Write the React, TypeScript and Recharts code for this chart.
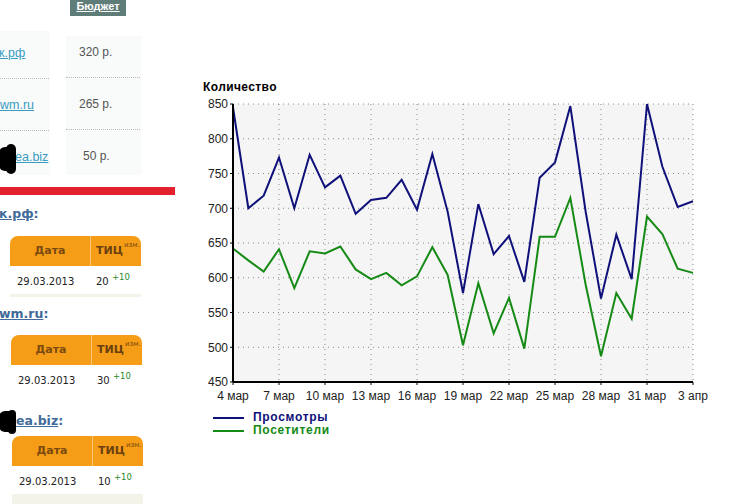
import React from "react";
import { LineChart, Line, XAxis, YAxis, CartesianGrid } from "recharts";

const days = [0,1,2,3,4,5,6,7,8,9,10,11,12,13,14,15,16,17,18,19,20,21,22,23,24,25,26,27,28,29,30];
const views = [845,700,718,773,700,777,730,747,692,712,715,741,698,778,695,578,706,634,660,594,744,766,847,695,570,662,598,850,760,702,710];
const visitors = [642,625,609,641,585,638,635,645,612,598,607,589,602,644,604,503,592,520,571,498,659,659,715,590,487,578,541,688,663,613,607];
const xTicks = [0,3,6,9,12,15,18,21,24,27,30];
const xLabels = ["4 мар","7 мар","10 мар","13 мар","16 мар","19 мар","22 мар","25 мар","28 мар","31 мар","3 апр"];
const yTicks = [450,500,550,600,650,700,750,800,850];
const rows = days.map((d, i) => ({ d, views: views[i], visitors: visitors[i] }));

const budgets = ["320 р.", "265 р.", "50 р."];
const links = ["к.рф", "wm.ru", "ea.biz"];
const headings = ["к.рф", "wm.ru", "ea.biz"];
const tic = ["20", "30", "10"];

const sans = "'Liberation Sans', Arial, sans-serif";
const tahoma = "'DejaVu Sans', sans-serif";
const abs = (left: number, top: number, extra: React.CSSProperties = {}): React.CSSProperties => ({
  position: "absolute", left, top, whiteSpace: "nowrap", ...extra,
});

const linkLeft = [-1, 0, 15];
const linkTop = [46, 98, 150];
const budgetLeft = [79, 79, 83];
const headLeft = [-1, -1, 16];
const headTop = [206, 306, 413];
const tableLeft = [10, 11, 12];
const tableTop = [236, 335, 436];
const stripH = [3, 0, 10];

function LegendBox() {
  const items = [["Просмотры", "#10107a"], ["Посетители", "#158a15"]];
  return (
    <div style={{ position: "absolute", left: 213, top: 411, width: 200 }}>
      {items.map(([label, color]) => (
        <div key={label} style={{ height: 13, display: "flex", alignItems: "center" }}>
          <span style={{ width: 31, height: 2, background: color, marginRight: 9 }} />
          <span style={{ fontFamily: sans, fontSize: 12, fontWeight: 700, letterSpacing: 0.7, color, lineHeight: "13px" }}>{label}</span>
        </div>
      ))}
    </div>
  );
}

export default function App() {
  return (
    <div style={{ position: "absolute", left: 0, top: 0, width: 732, height: 504, overflow: "hidden", background: "#fff" }}>
      <div style={abs(70, 0, { width: 56, height: 16, background: "#5f7d78", color: "#fff", fontFamily: sans, fontSize: 11, fontWeight: 700, textAlign: "center", textDecoration: "underline", lineHeight: "13px" })}>Бюджет</div>
      <div style={abs(0, 31, { width: 50, height: 144, background: "#f9fbfb" })} />
      <div style={abs(66, 36, { width: 75, height: 139, background: "#f9fbfb" })} />
      {[78, 130].map((t) => (
        <React.Fragment key={t}>
          <div style={abs(0, t, { width: 49, borderTop: "1px dotted #bbb" })} />
          <div style={abs(66, t - 1, { width: 74, borderTop: "1px dotted #bbb" })} />
        </React.Fragment>
      ))}
      {links.map((l, i) => (
        <div key={l} style={abs(linkLeft[i], linkTop[i], { fontFamily: sans, fontSize: 12.5, color: "#3a9cc0", textDecoration: "underline", lineHeight: "14px" })}>{l}</div>
      ))}
      {budgets.map((b, i) => (
        <div key={b} style={abs(budgetLeft[i], linkTop[i] - 1, { fontFamily: sans, fontSize: 12, color: "#555", lineHeight: "14px" })}>{b}</div>
      ))}
      <div style={abs(-1, 147, { width: 14, height: 24, background: "#000", borderRadius: 6 })} />
      <div style={abs(6, 144, { width: 10, height: 30, background: "#000", borderRadius: 5 })} />
      <div style={abs(0, 187, { width: 175, height: 8, background: "#e2202e" })} />

      {headings.map((h, i) => (
        <div key={h} style={abs(headLeft[i], headTop[i], { fontFamily: tahoma, fontSize: 12.5, fontWeight: 700, color: "#3f6a9a", lineHeight: "16px" })}>
          <span style={{ textDecoration: "underline" }}>{h}</span>:
        </div>
      ))}
      <div style={abs(-1, 411, { width: 16, height: 21, background: "#000", borderRadius: 6 })} />
      <div style={abs(8, 410, { width: 8, height: 24, background: "#000", borderRadius: 4 })} />

      {tic.map((t, i) => (
        <div key={i} style={abs(tableLeft[i], tableTop[i], { width: 131, height: 62 + stripH[i] })}>
          <div style={{ position: "absolute", left: 0, top: 0, width: 131, height: 30, background: "#f59d16", borderRadius: "8px 8px 0 0" }} />
          <div style={{ position: "absolute", left: 80, top: 0, width: 1, height: 30, background: "#fbc777" }} />
          <div style={{ position: "absolute", left: 0, top: 7, width: 80, textAlign: "center", fontFamily: tahoma, fontSize: 11, fontWeight: 700, color: "#7a4a10", lineHeight: "16px" }}>Дата</div>
          <div style={{ position: "absolute", left: 86, top: 7, fontFamily: tahoma, fontSize: 11, fontWeight: 700, color: "#6a4010", lineHeight: "16px" }}>ТИЦ</div>
          <div style={{ position: "absolute", left: 114, top: 5, width: 17, overflow: "hidden", fontFamily: tahoma, fontSize: 7, color: "#7a4a10", lineHeight: "9px" }}>изм.</div>
          <div style={{ position: "absolute", left: 7, top: 39, fontFamily: tahoma, fontSize: 10, color: "#222", lineHeight: "14px" }}>29.03.2013</div>
          <div style={{ position: "absolute", left: 86, top: 39, fontFamily: tahoma, fontSize: 10, color: "#222", lineHeight: "14px" }}>{t}</div>
          <div style={{ position: "absolute", left: 102, top: 35, fontFamily: tahoma, fontSize: 8.5, color: "#2a8a2a", lineHeight: "12px" }}>+10</div>
          {stripH[i] > 0 && <div style={{ position: "absolute", left: 0, top: 58, width: 131, height: stripH[i], background: "#f3f3e9" }} />}
        </div>
      ))}

      <div style={abs(203, 80, { fontFamily: sans, fontSize: 12, fontWeight: 700, color: "#000", letterSpacing: 0.4, lineHeight: "15px" })}>Количество</div>

      <div style={{ position: "absolute", left: 0, top: 0 }}>
        <LineChart width={732} height={504} data={rows} margin={{ top: 104, right: 39, bottom: 92, left: 193 }}>
          <CartesianGrid
            fill="#f5f5f5"
            stroke="#888"
            strokeWidth={1}
            strokeDasharray="1 4"
            horizontalValues={yTicks}
            verticalValues={xTicks}
          />
          <XAxis
            dataKey="d"
            type="number"
            domain={[0, 30]}
            ticks={xTicks}
            interval={0}
            tickFormatter={(v: number) => xLabels[xTicks.indexOf(v)]}
            stroke="#000"
            strokeWidth={2}
            tickSize={3}
            tick={{ fontFamily: sans, fontSize: 12, fill: "#222", dy: 4 }}
            tickLine={{ stroke: "#000", strokeWidth: 1 }}
            height={30}
          />
          <YAxis
            type="number"
            domain={[450, 850]}
            ticks={yTicks}
            interval={0}
            stroke="#000"
            strokeWidth={2}
            tickSize={3}
            tick={{ fontFamily: sans, fontSize: 12, fill: "#222" }}
            tickLine={{ stroke: "#000", strokeWidth: 1 }}
            width={40}
            orientation="left"
          />
          <Line dataKey="views" name="Просмотры" stroke="#10107a" strokeWidth={2} dot={false} isAnimationActive={false} />
          <Line dataKey="visitors" name="Посетители" stroke="#158a15" strokeWidth={2} dot={false} isAnimationActive={false} />
        </LineChart>
      </div>
      <LegendBox />
    </div>
  );
}
